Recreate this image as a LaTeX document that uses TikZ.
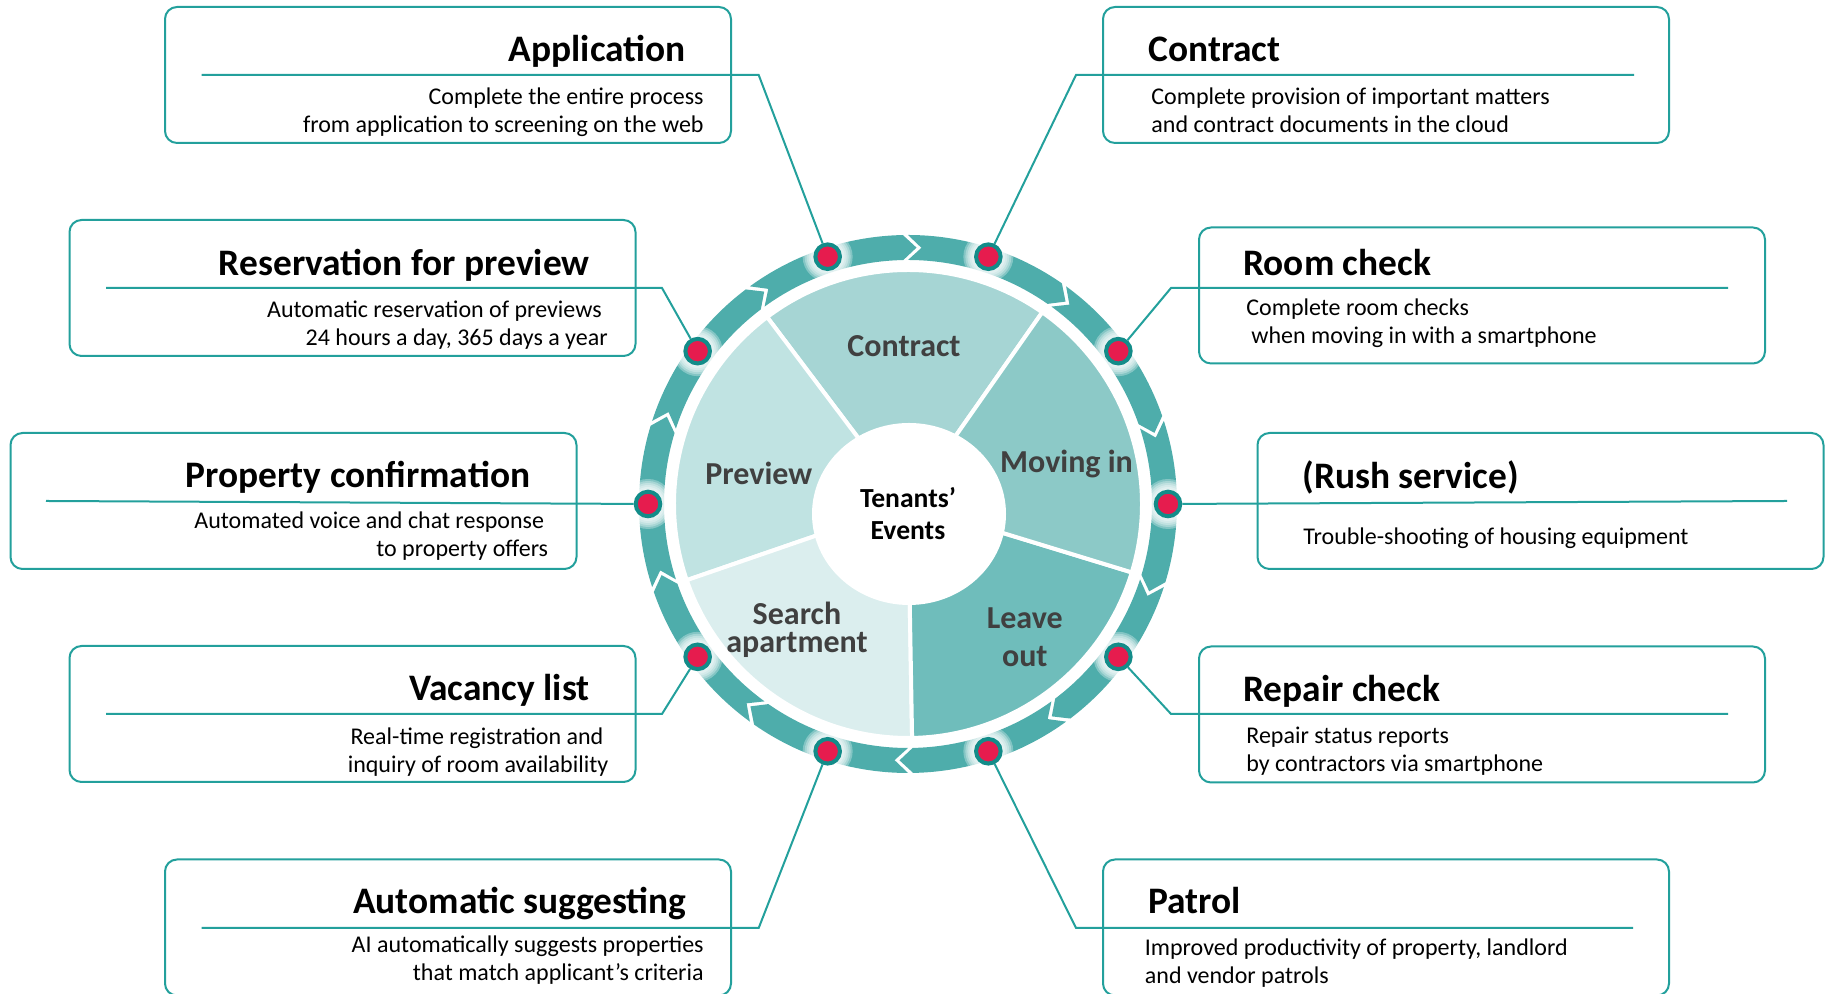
\documentclass[tikz,border=0pt]{standalone}
\usepackage{fontspec}
\setmainfont{Carlito}
\usepackage{xcolor}
\usepackage{tikz}

\definecolor{ringteal}{HTML}{4EADAB}
\definecolor{dotteal}{HTML}{138C89}
\definecolor{dotred}{HTML}{E61C4E}
\definecolor{lineteal}{HTML}{23A09C}
\definecolor{colContract}{HTML}{A6D5D4}
\definecolor{colMoving}{HTML}{8CC9C7}
\definecolor{colLeave}{HTML}{6FBDBB}
\definecolor{colSearch}{HTML}{DBEEEE}
\definecolor{colPreview}{HTML}{C0E3E2}
\definecolor{labelgray}{HTML}{404040}

\begin{document}
\begin{tikzpicture}[x=0.5pt,y=0.5pt]

			\tikzstyle{infobox} = [draw=lineteal, line width=1pt, rounded corners=6pt, minimum width=283pt, minimum height=68pt]
			\tikzstyle{boxtitle} = [inner sep=0, font=\fontsize{18.7}{20}\selectfont\bfseries]
			\tikzstyle{boxtext} = [inner sep=0, font=\fontsize{12}{14.25}\selectfont]
			\tikzstyle{uline} = [draw=lineteal, line width=1pt]
			\tikzstyle{dot} = [circle, fill=dotred, draw=dotteal, line width=2pt, minimum size=12.3pt, inner sep=0]
			\tikzstyle{pielabel} = [inner sep=0, text=labelgray, align=center, font=\fontsize{16}{19}\selectfont\bfseries]

			\clip (0,0) rectangle (1833,994);

			% wheel
			\begin{scope}[shift={(908,490)}]
				\filldraw[fill=colContract, draw=white, line width=2pt] (0,0) -- (55:234) arc[start angle=55, end angle=127, radius=234] -- cycle;
				\filldraw[fill=colPreview, draw=white, line width=2pt] (0,0) -- (127:234) arc[start angle=127, end angle=199, radius=234] -- cycle;
				\filldraw[fill=colSearch, draw=white, line width=2pt] (0,0) -- (199:234) arc[start angle=199, end angle=271, radius=234] -- cycle;
				\filldraw[fill=colLeave, draw=white, line width=2pt] (0,0) -- (271:234) arc[start angle=271, end angle=343, radius=234] -- cycle;
				\filldraw[fill=colMoving, draw=white, line width=2pt] (0,0) -- (343:234) arc[start angle=343, end angle=415, radius=234] -- cycle;
				\fill[white] (1,-10) ellipse [x radius=97, y radius=91];

				% ring of chevrons
				\foreach \c in {90,54,...,-234}
					\fill[ringteal] (\c:269) arc[start angle=\c, end angle=\c-34.9, radius=269] -- (\c-37.9:256.5) -- (\c-34.9:244) arc[start angle=\c-34.9, end angle=\c, radius=244] -- (\c-3:256.5) -- cycle;

				% glow and dots
				\foreach \a in {0,36,...,324}
					\foreach \gr in {15,17,...,25}
						\fill[white, opacity=.3] (\a:260) circle (\gr);
				\foreach \a [count=\i from 0] in {0,36,...,324}
					\node[dot] (d\i) at (\a:260) {};
			\end{scope}

			\node[pielabel, anchor=base] (lblContract) at (904,637) {Contract};
			\node[pielabel, anchor=base] (lblMoving) at (1066.5,521.5) {Moving in};
			\node[pielabel, anchor=base] (lblPreview) at (758.8,509) {Preview};
			\node[pielabel, anchor=base, font=\fontsize{16}{14}\selectfont\bfseries] (lblSearch) at (797,341.3) {Search\\apartment};
			\node[pielabel, anchor=base] (lblLeave) at (1024.8,327) {Leave\\out};
			\node[anchor=base, align=center, inner sep=0, font=\fontsize{13.8}{16}\selectfont\bfseries] (events) at (908,454) {Tenants’\\Events};

			% left column
			\node[infobox] (appBox) at (448,919) {};
			\node[boxtitle, anchor=base east] (appTitle) at (686,932) {Application};
			\node[boxtext, anchor=base east, align=right] (appText) at (704,861) {Complete the entire process\\from application to screening on the web};
			\coordinate (appL) at (201.5,919);
			\coordinate (appK) at (758.7,919);
			\draw[uline] (appL) -- (appK) -- (d3);

			\node[infobox] (resBox) at (352.5,706) {};
			\node[boxtitle, anchor=base east] (resTitle) at (590,718) {Reservation for preview};
			\node[boxtext, anchor=base east, align=right] (resText) at (608,648) {Automatic reservation of previews\hspace*{3pt}\\24 hours a day, 365 days a year};
			\coordinate (resL) at (106,706);
			\coordinate (resK) at (662,706);
			\draw[uline] (resL) -- (resK) -- (d4);

			\node[infobox] (propBox) at (293.5,493) {};
			\node[boxtitle, anchor=base east] (propTitle) at (530.6,506) {Property confirmation};
			\node[boxtext, anchor=base east, align=right] (propText) at (548.5,437) {Automated voice and chat response\hspace*{2pt}\\to property offers};
			\coordinate (propL) at (46,493);
			\draw[uline] (propL) -- (d5);

			\node[infobox] (vacBox) at (352.5,280) {};
			\node[boxtitle, anchor=base east] (vacTitle) at (590,293) {Vacancy list};
			\node[boxtext, anchor=base east, align=right] (vacText) at (608.7,221) {Real-time registration and\hspace*{2.5pt}\\inquiry of room availability};
			\coordinate (vacL) at (106,280);
			\coordinate (vacK) at (662,280);
			\draw[uline] (vacL) -- (vacK) -- (d6);

			\node[infobox] (sugBox) at (448,66.5) {};
			\node[boxtitle, anchor=base east] (sugTitle) at (687,80) {Automatic suggesting};
			\node[boxtext, anchor=base east, align=right] (sugText) at (704,13) {AI automatically suggests properties\\that match applicant’s criteria};
			\coordinate (sugL) at (201.5,66);
			\coordinate (sugK) at (758.7,66);
			\draw[uline] (sugL) -- (sugK) -- (d7);

			% right column
			\node[infobox] (conBox) at (1386,919) {};
			\node[boxtitle, anchor=base west] (conTitle) at (1148,932) {Contract};
			\node[boxtext, anchor=base west, align=left] (conText) at (1151,861) {Complete provision of important matters\\and contract documents in the cloud};
			\coordinate (conR) at (1634,919);
			\coordinate (conK) at (1076,919);
			\draw[uline] (conR) -- (conK) -- (d2);

			\node[infobox] (roomBox) at (1482,698.5) {};
			\node[boxtitle, anchor=base west] (roomTitle) at (1243,718.5) {Room check};
			\node[boxtext, anchor=base west, align=left] (roomText) at (1246,650) {Complete room checks\\\hspace*{2.5pt}when moving in with a smartphone};
			\coordinate (roomR) at (1728,706);
			\coordinate (roomK) at (1171,706);
			\draw[uline] (roomR) -- (roomK) -- (d1);

			\node[infobox] (rushBox) at (1540.5,493) {};
			\node[boxtitle, anchor=base west] (rushTitle) at (1302,505) {(Rush service)};
			\node[boxtext, anchor=base west] (rushText) at (1303,449) {Trouble-shooting of housing equipment};
			\coordinate (rushR) at (1787,493);
			\draw[uline] (rushR) -- (d0);

			\node[infobox] (repBox) at (1482,279.5) {};
			\node[boxtitle, anchor=base west] (repTitle) at (1243,292.5) {Repair check};
			\node[boxtext, anchor=base west, align=left] (repText) at (1246,222) {Repair status reports\\by contractors via smartphone};
			\coordinate (repR) at (1728,280);
			\coordinate (repK) at (1171,280);
			\draw[uline] (repR) -- (repK) -- (d9);

			\node[infobox] (patBox) at (1386,66.5) {};
			\node[boxtitle, anchor=base west] (patTitle) at (1148,80) {Patrol};
			\node[boxtext, anchor=base west, align=left] (patText) at (1144.5,10) {Improved productivity of property, landlord\\and vendor patrols};
			\coordinate (patR) at (1633,66);
			\coordinate (patK) at (1076,66);
			\draw[uline] (patR) -- (patK) -- (d8);

		\end{tikzpicture}
\end{document}
